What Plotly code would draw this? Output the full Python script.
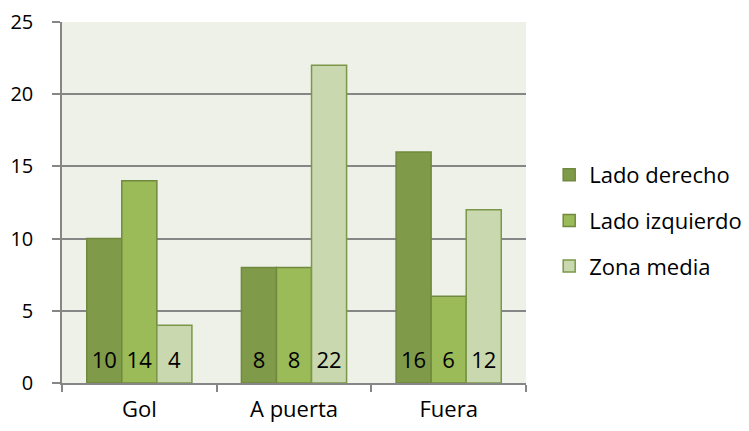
import plotly.graph_objects as go

categories = ["Gol", "A puerta", "Fuera"]
series_names = ["Lado derecho", "Lado izquierdo", "Zona media"]
lado_derecho = [10, 8, 16]
lado_izquierdo = [14, 8, 6]
zona_media = [4, 22, 12]
y_ticks = [0, 5, 10, 15, 20, 25]

fills = ["#7F9A48", "#9BBB59", "#C9D8AE"]
edges = ["#71893F", "#71893F", "#7A9848"]
FONT = "Open Sans"
FS = 22

fig = go.Figure()
for i, (name, vals) in enumerate(zip(series_names, [lado_derecho, lado_izquierdo, zona_media])):
    fig.add_trace(go.Bar(
        x=categories, y=vals, name=name,
        text=[f"<span style='font-size:{FS}px'>{v}</span><br> " for v in vals],
        textposition="inside", insidetextanchor="start",
        textfont=dict(size=8, color="black", family=FONT),
        marker=dict(color=fills[i], line=dict(color=edges[i], width=1.5)),
        legendgroup=name,
        constraintext="none",
    ))

fig.update_layout(
    width=741, height=423,
    margin=dict(l=54, r=223, t=14, b=48, autoexpand=False),
    paper_bgcolor="white",
    plot_bgcolor="#EEF1E8",
    barmode="group",
    bargap=0.32, bargroupgap=0,
    font=dict(family=FONT, size=FS, color="black"),
    showlegend=True,
    legend=dict(x=1.05, xanchor="left", y=0.45, yanchor="middle",
                tracegroupgap=14, font=dict(size=FS, family=FONT),
                bgcolor="rgba(0,0,0,0)"),
)
fig.update_xaxes(
    showgrid=False, showline=True, linecolor="#868686", linewidth=1.5,
    ticks="outside", tickson="boundaries", ticklen=7, tickcolor="#868686", tickwidth=1.5,
    tickfont=dict(size=FS, family=FONT), ticklabelstandoff=6, automargin=False,
    ticklabeloverflow="allow",
)
fig.update_yaxes(
    range=[0, 25], tickvals=y_ticks,
    showgrid=True, gridcolor="#868686", gridwidth=1.5,
    showline=True, linecolor="#868686", linewidth=1.5,
    ticks="outside", ticklen=8, tickcolor="#868686", tickwidth=1.5,
    tickfont=dict(size=20, family=FONT), zeroline=False, ticklabelstandoff=15,
    automargin=False, ticklabeloverflow="allow",
)
fig.write_html("out.html")
